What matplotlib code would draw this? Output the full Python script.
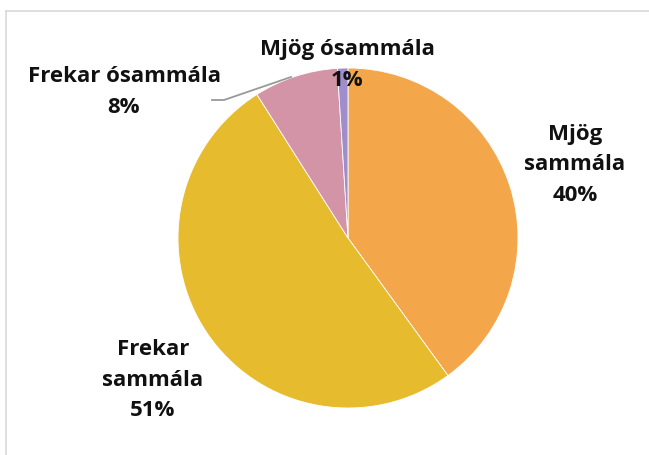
import matplotlib.pyplot as plt

labels = ['Mjög\nsammála', 'Frekar\nsammála', 'Frekar ósammála', 'Mjög ósammála']
values = [40, 51, 8, 1]
colors = ['#F4A64A', '#E6BC2E', '#D494A8', '#9E8FCC']

W, H = 649, 455
fig = plt.figure(figsize=(W / 100, H / 100), dpi=100)
ax = fig.add_axes([0, 0, 1, 1])

cx, cy, r = 348, H - 238, 170
ax.pie(values, colors=colors, startangle=90, counterclock=False,
       center=(cx, cy), radius=r, wedgeprops=dict(linewidth=0.6, edgecolor='white'))

ax.set_xlim(0, W)
ax.set_ylim(0, H)
ax.set_aspect('equal')
ax.axis('off')

# chart frame (only top and left show)
ax.plot([6, W], [H - 11, H - 11], color='#D9D9D9', lw=1.2)
ax.plot([6, 6], [H - 11, 0], color='#D9D9D9', lw=1.2)

txt = dict(fontfamily='Open Sans', fontweight='bold', fontsize=16, color='#111111',
           ha='center', va='center', linespacing=1.6)
pos = [(575, 165), (153, 380), (124, 92), (347, 65)]
for lab, v, (x, y) in zip(labels, values, pos):
    ax.text(x, H - y, f'{lab}\n{v}%', **txt)

# leader line for small slice
ax.plot([212, 224, 291], [H - 100, H - 100, H - 77], color='#999999', lw=1.3)

fig.savefig('out.png', dpi=100)
